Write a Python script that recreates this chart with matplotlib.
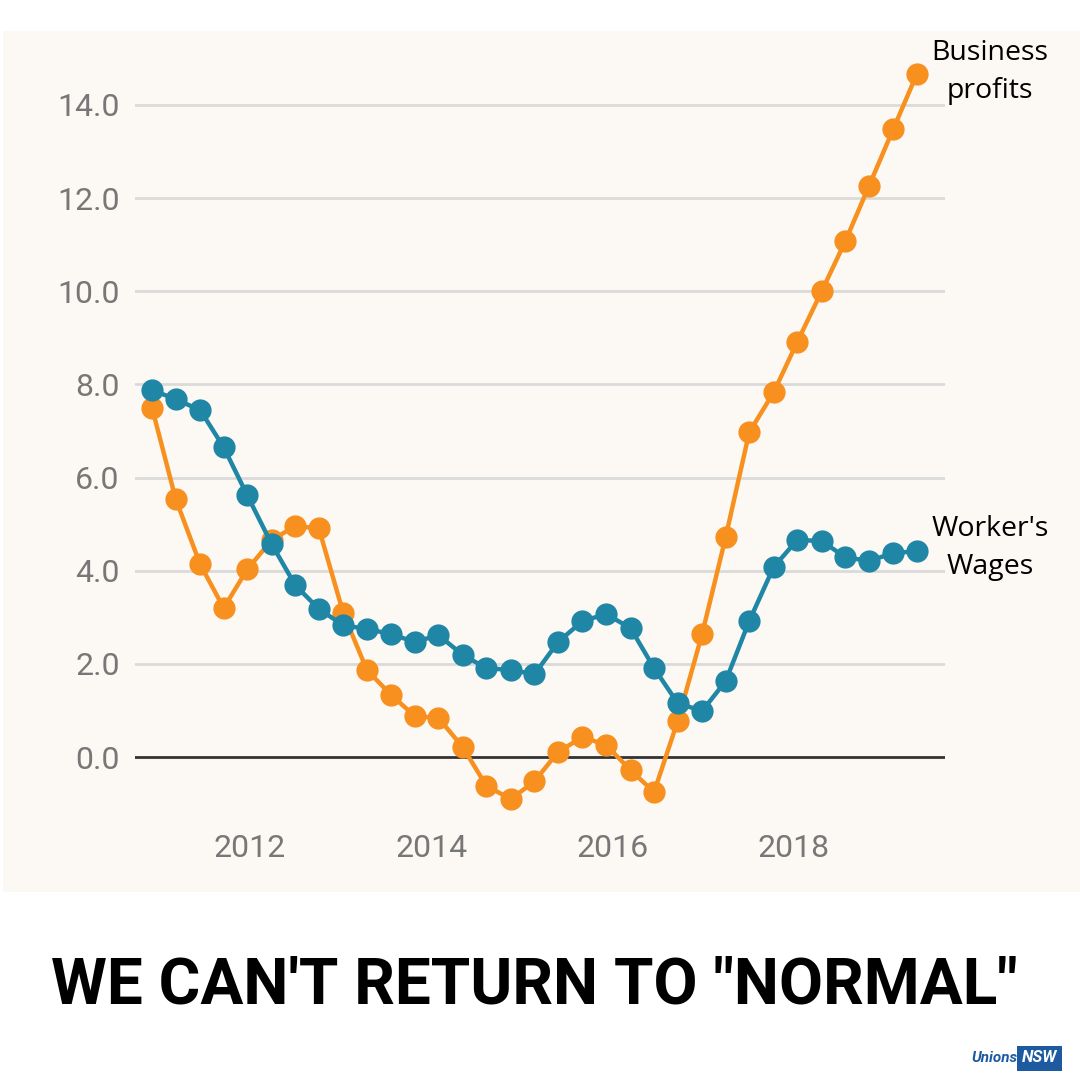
import matplotlib.pyplot as plt
from matplotlib.patches import Rectangle

# decimal years of each point
years = [2010.92, 2011.18, 2011.45, 2011.71, 2011.97, 2012.24, 2012.50, 2012.76,
         2013.03, 2013.29, 2013.56, 2013.82, 2014.08, 2014.35, 2014.61, 2014.88,
         2015.14, 2015.40, 2015.67, 2015.93, 2016.20, 2016.46, 2016.72, 2016.99,
         2017.25, 2017.51, 2017.78, 2018.04, 2018.31, 2018.57, 2018.83, 2019.10,
         2019.36]

profits = [7.49, 5.54, 4.14, 3.20, 4.03, 4.66, 4.96, 4.91,
           3.09, 1.87, 1.33, 0.88, 0.84, 0.21, -0.62, -0.90,
           -0.52, 0.11, 0.43, 0.26, -0.28, -0.75, 0.77, 2.64,
           4.72, 6.97, 7.83, 8.91, 10.00, 11.07, 12.25, 13.48,
           14.66]

wages = [7.88, 7.68, 7.45, 6.65, 5.62, 4.57, 3.69, 3.18,
         2.83, 2.75, 2.64, 2.47, 2.62, 2.19, 1.91, 1.87,
         1.78, 2.47, 2.92, 3.07, 2.77, 1.91, 1.16, 0.99,
         1.63, 2.92, 4.08, 4.66, 4.64, 4.29, 4.21, 4.38,
         4.42]

yticks = [0, 2, 4, 6, 8, 10, 12, 14]
xticks = [2012, 2014, 2016, 2018]

orange = "#f7901e"
blue = "#1f86a6"
panel = "#fcf8f4"

fig = plt.figure(figsize=(10.8, 10.8), dpi=100)
fig.patch.set_facecolor("white")

# beige chart panel
fig.patches.append(Rectangle((3 / 1080, 1 - 892 / 1080), 1, 861 / 1080,
                             transform=fig.transFigure, facecolor=panel,
                             edgecolor="none", zorder=-10))

ax = fig.add_axes([135 / 1080, 1 - 827 / 1080, 810 / 1080, 792 / 1080])
ax.set_zorder(2)
ax.set_facecolor("none")
ax.set_xlim(2010.731, 2019.671)
ax.set_ylim(-1.5, 15.5)

for v in yticks:
    if v == 0:
        ax.axhline(v, color="#333333", lw=2, zorder=1)
    else:
        ax.axhline(v, color="#dadada", lw=2, zorder=1)

ax.plot(years, profits, color=orange, lw=3.2, marker="o", ms=16,
        markeredgewidth=0, zorder=3)
ax.plot(years, wages, color=blue, lw=3.2, marker="o", ms=16,
        markeredgewidth=0, zorder=4)

ax.set_yticks(yticks)
ax.set_yticklabels(["%.1f" % v for v in yticks])
ax.set_xticks(xticks)
ax.set_xticklabels([str(y) for y in xticks])
ax.tick_params(length=0, labelsize=23, labelcolor="#777777")
ax.tick_params(axis="y", pad=11)
ax.tick_params(axis="x", pad=5)
for lab in ax.get_xticklabels() + ax.get_yticklabels():
    lab.set_family("Roboto")
for s in ax.spines.values():
    s.set_visible(False)

# series labels
fig.text(990 / 1080, 1 - 72 / 1080, "Business\nprofits", ha="center", va="center",
         fontsize=20.5, family="Open Sans", linespacing=1.45, color="black")
fig.text(990 / 1080, 1 - 548 / 1080, "Worker's\nWages", ha="center", va="center",
         fontsize=20.5, family="Open Sans", linespacing=1.45, color="black")

# headline
fig.text(534 / 1080, 1 - 986 / 1080, "WE CAN'T RETURN TO \"NORMAL\"",
         ha="center", va="center", fontsize=46, family="Roboto",
         weight="bold", color="black")

# logo
fig.text(1018 / 1080, 1 - 1058 / 1080, "Unions", ha="right", va="center",
         fontsize=11, family="Roboto", weight="bold", style="italic",
         color="#1d5aa0")
fig.text(1022 / 1080, 1 - 1058 / 1080, "NSW", ha="left", va="center",
         fontsize=12, family="Roboto", weight="bold", style="italic",
         color="white",
         bbox=dict(boxstyle="square,pad=0.3", facecolor="#1d5aa0",
                   edgecolor="none"))

fig.savefig("out.png", dpi=100)
